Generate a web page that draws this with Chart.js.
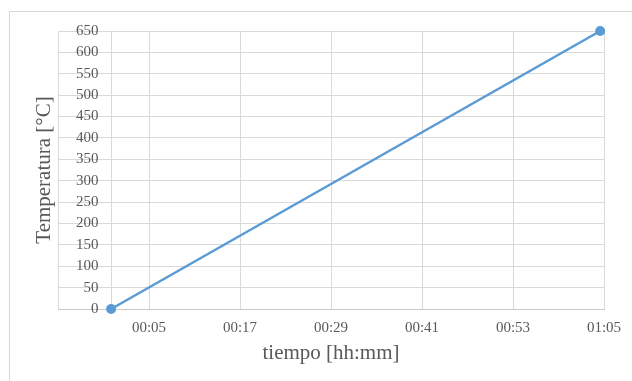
<!DOCTYPE html>
<html>
<head>
<meta charset="utf-8">
<script src="https://cdn.jsdelivr.net/npm/chart.js@4.4.1/dist/chart.umd.min.js"></script>
<style>
  html, body { margin: 0; padding: 0; background: #ffffff; overflow: hidden; }
  #frame { position: absolute; left: 9px; top: 11px; width: 800px; height: 600px; border: 1.5px solid #d9d9d9; }
  #wrap { position: absolute; left: 0; top: 0; width: 632px; height: 381px; }
</style>
</head>
<body>
<div id="frame"></div>
<div id="wrap"><canvas id="c" width="632" height="381"></canvas></div>
<script>
// Data (time in minutes, temperature in °C)
const timeMinutes = [0, 64.5];
const temperatures = [0, 650];
// X axis tick positions (minutes); labels shown only from 00:05 on
const xTickMinutes = [-7, 0, 5, 17, 29, 41, 53, 65];
const xLabelledTicks = [5, 17, 29, 41, 53, 65];
const yTicks = [0, 50, 100, 150, 200, 250, 300, 350, 400, 450, 500, 550, 600, 650];
const xTitle = 'tiempo [hh:mm]';
const yTitle = 'Temperatura [°C]';

function fmt(min) {
  const h = Math.floor(min / 60), m = Math.round(min % 60);
  return String(h).padStart(2, '0') + ':' + String(m).padStart(2, '0');
}

const points = timeMinutes.map((t, i) => ({ x: t, y: temperatures[i] }));
const txt = '#595959';
const grid = '#d9d9d9';
const serif = 'Liberation Serif';

new Chart(document.getElementById('c'), {
  type: 'line',
  data: {
    datasets: [{
      data: points,
      borderColor: '#5b9bd5',
      backgroundColor: '#5b9bd5',
      borderWidth: 2.5,
      pointRadius: 5,
      pointHoverRadius: 5,
      pointBackgroundColor: '#5b9bd5',
      pointBorderWidth: 0,
      tension: 0,
      fill: false,
      clip: false
    }]
  },
  options: {
    responsive: false,
    animation: false,
    events: [],
    layout: { padding: { left: 32, top: 31, right: 28, bottom: 15 } },
    plugins: { legend: { display: false }, tooltip: { enabled: false } },
    scales: {
      x: {
        type: 'linear',
        min: xTickMinutes[0],
        max: xTickMinutes[xTickMinutes.length - 1],
        afterBuildTicks: (scale) => { scale.ticks = xTickMinutes.map(v => ({ value: v })); },
        afterFit: (scale) => { scale.height = 57; },
        grid: { color: grid, lineWidth: 1, drawTicks: false },
        border: { display: true, color: '#c9c9c9', width: 1 },
        ticks: {
          autoSkip: false,
          maxRotation: 0,
          padding: 10,
          color: txt,
          font: { family: serif, size: 15 },
          callback: (v) => xLabelledTicks.includes(v) ? fmt(v) : ''
        },
        title: {
          display: true,
          text: xTitle,
          color: txt,
          font: { family: serif, size: 21 },
          padding: { top: 0, bottom: 0 }
        }
      },
      y: {
        min: yTicks[0],
        max: yTicks[yTicks.length - 1],
        afterBuildTicks: (scale) => { scale.ticks = yTicks.map(v => ({ value: v })); },
        afterFit: (scale) => { scale.width = 26; },
        grid: { color: grid, lineWidth: 1, drawTicks: false },
        border: { display: false },
        ticks: {
          autoSkip: false,
          mirror: true,
          crossAlign: 'far',
          padding: 18,
          color: txt,
          font: { family: serif, size: 15 }
        },
        title: {
          display: true,
          text: yTitle,
          color: txt,
          font: { family: serif, size: 21 },
          padding: { top: 0, bottom: 0 }
        }
      }
    }
  }
});
</script>
</body>
</html>
